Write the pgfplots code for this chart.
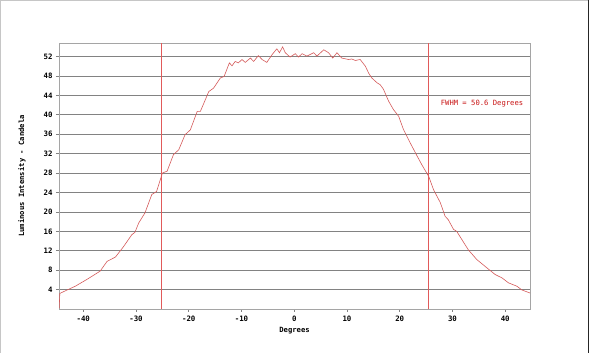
\documentclass[border=0pt]{standalone}
\usepackage{pgfplots}
\pgfplotsset{compat=1.18}
\usepackage{fontspec}
\setmainfont{DejaVu Sans Mono}
\definecolor{curvecol}{RGB}{212,90,90}
\definecolor{vlinecol}{RGB}{225,90,90}
\definecolor{gridc}{RGB}{130,130,130}
\definecolor{boxc}{RGB}{165,165,165}
\definecolor{fwhm}{RGB}{200,20,20}
\begin{document}
\begin{tikzpicture}
\path[use as bounding box] (-59bp,-44bp) rectangle (531bp,309bp);
\draw[gray!45, line width=1bp] (-58.5bp,-44bp) -- (-58.5bp,308.5bp) -- (529bp,308.5bp);
\draw[black!85, line width=1.2bp] (529.6bp,309bp) -- (529.6bp,-44bp);
\begin{axis}[
  at={(0,0)}, anchor=south west, scale only axis,
  width=471bp, height=266bp,
  xmin=-44.6, xmax=44.7, ymin=0, ymax=54.8,
  xtick={-40,-30,...,40}, ytick={4,8,...,52},
  ymajorgrids, grid style={gridc, line width=0.8bp},
  axis line style={boxc, line width=0.8bp},
  tick align=outside, major tick length=3bp,
  tick style={gridc, line width=0.8bp},
  xtick pos=left, ytick pos=left,
  /pgf/number format/assume math mode=true,
  tick label style={font=\fontsize{7.4bp}{8bp}\selectfont\bfseries},
  xlabel={Degrees}, ylabel={Luminous Intensity - Candela},
  label style={font=\fontsize{7.2bp}{8bp}\selectfont\bfseries},
  x label style={at={(axis description cs:0.5,-0.083)}, anchor=center},
  y label style={at={(axis description cs:-0.0786,0.5)}, anchor=center},
  clip=true,
]
\addplot[color=curvecol, line width=0.6bp] table {
x y
-44.56 0.2
-44.45 3.2
-43.1 3.9
-41.5 4.7
-39.3 6.1
-36.8 7.8
-35.5 9.8
-33.9 10.7
-32.4 12.8
-30.8 15.3
-30.2 15.8
-29.5 17.7
-28.3 19.8
-27.0 23.6
-26.1 24.2
-25.0 28.0
-24.1 28.4
-22.9 31.8
-21.9 32.8
-20.7 35.9
-19.7 36.9
-18.4 40.7
-17.8 40.7
-16.2 44.8
-15.3 45.5
-14.0 47.6
-13.3 47.9
-12.3 50.7
-11.8 50.1
-11.2 51.0
-10.6 50.7
-9.9 51.4
-9.3 50.8
-8.3 51.7
-7.7 51.0
-6.8 52.2
-6.1 51.4
-5.2 50.8
-4.2 52.4
-3.3 53.6
-2.8 52.8
-2.2 54.0
-1.7 52.8
-0.8 51.9
0.2 52.6
0.8 51.9
1.5 52.6
2.4 52.1
3.7 52.8
4.3 52.1
5.6 53.4
6.5 52.8
7.3 51.7
8.1 52.8
9.0 51.7
10.3 51.4
10.9 51.5
11.6 51.2
12.5 51.4
13.5 50.0
14.1 48.6
14.7 47.6
15.7 46.6
16.3 46.2
16.9 45.3
17.9 42.8
18.8 41.1
19.8 39.7
20.7 37.0
22.0 34.2
23.3 31.5
24.2 29.7
25.5 27.3
26.4 24.6
27.7 21.9
28.6 19.1
29.2 18.4
30.2 16.4
30.8 16.0
33.0 12.2
34.6 10.2
36.5 8.5
38.1 7.1
39.4 6.4
40.6 5.4
42.2 4.7
43.2 3.9
44.7 3.3
};
\addplot[vlinecol, line width=0.85bp, forget plot] table {
x y
-25.2 0
-25.2 54.8
};
\addplot[vlinecol, line width=0.85bp, forget plot] table {
x y
25.4 0
25.4 54.8
};
\node[text=fwhm, font=\fontsize{7.2bp}{8bp}\selectfont] at (axis cs:35.6,42.3) {FWHM = 50.6 Degrees};
\end{axis}
\end{tikzpicture}
\end{document}
